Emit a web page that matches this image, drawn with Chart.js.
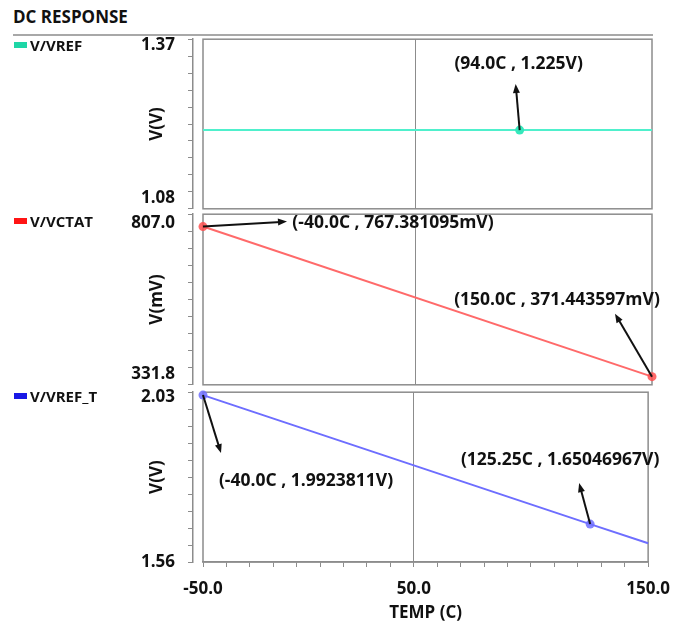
<!DOCTYPE html>
<html>
<head>
<meta charset="utf-8">
<script src="https://cdn.jsdelivr.net/npm/chart.js@4.4.0/dist/chart.umd.min.js"></script>
<style>
  body { margin: 0; background: #fff; font-family: "Open Sans", sans-serif; color: #111; }
  #page { position: relative; width: 682px; height: 623px; overflow: hidden; }
  #title { position: absolute; left: 13px; top: 5px; font-weight: bold; font-size: 17px; }
  #rule { position: absolute; left: 13px; top: 34px; width: 640px; height: 2px; background: #a8a8a8; }
  .panel { position: absolute; left: 0; }
  .leg { position: absolute; font-weight: bold; font-size: 15px; line-height: 16px; }
  .leg span { display: inline-block; width: 13px; height: 6px; margin-right: 3px; vertical-align: 3px; }
</style>
</head>
<body>
<div id="page">
  <div id="title">DC RESPONSE</div>
  <div id="rule"></div>
  <canvas id="c0" class="panel" width="682" height="216" style="top:16px"></canvas>
  <canvas id="c1" class="panel" width="682" height="217" style="top:191px"></canvas>
  <canvas id="c2" class="panel" width="682" height="254" style="top:369px"></canvas>
</div>
<script>
// Series
const seriesNames = ['V/VREF', 'V/VCTAT', 'V/VREF_T'];

const vrefTemp = [-40, 94, 150];
const vrefVolts = [1.225, 1.225, 1.225];

const vctatTemp = [-40, 150];
const vctatMilliVolts = [767.381095, 371.443597];

const vreftTemp = [-40, 125.25, 150];
const vreftVolts = [1.9923811, 1.65046967, 1.5995];

// Axes
const xRange = [-40, 150];
const xTickValues = [-40, 50, 150];
const xTickLabels = ['-50.0', '50.0', '150.0'];
const vrefRange = [1.08, 1.37];
const vctatRange = [331.8, 807.0];
const vreftRange = [1.56, 2.03];
const yTitles = ['V(V)', 'V(mV)', 'V(V)'];

// Marked points and their readouts
const vrefMarks = [1];
const vrefNotes = ['(94.0C , 1.225V)'];
const vctatMarks = [0, 1];
const vctatNotes = ['(-40.0C , 767.381095mV)', '(150.0C , 371.443597mV)'];
const vreftMarks = [0, 1];
const vreftNotes = ['(-40.0C , 1.9923811V)', '(125.25C , 1.65046967V)'];

const FONT = '"Open Sans", sans-serif';
const GRAY = '#8c8c8c';

const framePlugin = {
  id: 'frame',
  beforeDatasetsDraw(chart) {
    const { ctx, chartArea: a } = chart;
    ctx.save();
    ctx.strokeStyle = GRAY;
    ctx.lineWidth = 1.5;
    ctx.strokeRect(a.left, a.top, a.right - a.left, a.bottom - a.top);
    ctx.restore();
  }
};

const notePlugin = {
  id: 'notes',
  afterDatasetsDraw(chart, args, opts) {
    const ctx = chart.ctx;
    const pts = chart.getDatasetMeta(0).data;
    opts.marks.forEach((idx, k) => {
      const pt = pts[idx];
      const o = opts.offsets[k];
      const x1 = pt.x + o.ax, y1 = pt.y + o.ay;
      const ang = Math.atan2(y1 - pt.y, x1 - pt.x);
      ctx.save();
      ctx.strokeStyle = '#111';
      ctx.fillStyle = '#111';
      ctx.lineWidth = 2;
      ctx.beginPath();
      ctx.moveTo(pt.x, pt.y);
      ctx.lineTo(x1 - 6 * Math.cos(ang), y1 - 6 * Math.sin(ang));
      ctx.stroke();
      ctx.beginPath();
      ctx.moveTo(x1, y1);
      ctx.lineTo(x1 - 9 * Math.cos(ang) + 3.5 * Math.sin(ang), y1 - 9 * Math.sin(ang) - 3.5 * Math.cos(ang));
      ctx.lineTo(x1 - 9 * Math.cos(ang) - 3.5 * Math.sin(ang), y1 - 9 * Math.sin(ang) + 3.5 * Math.cos(ang));
      ctx.closePath();
      ctx.fill();
      ctx.font = 'bold 17.5px ' + FONT;
      ctx.textAlign = 'center';
      ctx.textBaseline = 'middle';
      ctx.fillText(opts.texts[k], pt.x + o.tx, pt.y + o.ty);
      ctx.restore();
    });
  }
};

function makePanel(id, p) {
  const font = { family: FONT, size: 17, weight: 'bold' };
  const titleFont = { family: FONT, size: 17, weight: 'bold' };
  const span = p.range[1] - p.range[0];
  new Chart(document.getElementById(id), {
    type: 'line',
    data: {
      datasets: [{
        label: p.name,
        data: p.temps.map((t, i) => ({ x: t, y: p.values[i] })),
        borderColor: p.color,
        borderWidth: 2,
        pointRadius: c => p.marks.includes(c.dataIndex) ? 4.5 : 0,
        pointBackgroundColor: p.markColor,
        pointBorderWidth: 0,
        tension: 0,
        clip: 8
      }]
    },
    options: {
      responsive: false,
      animation: false,
      layout: { padding: { left: 123, right: 30, top: 10, bottom: 0 } },
      plugins: {
        legend: { display: false },
        tooltip: { enabled: false },
        notes: { marks: p.marks, texts: p.notes, offsets: p.offsets }
      },
      scales: {
        x: {
          type: 'linear',
          min: xRange[0],
          max: xRange[1],
          afterBuildTicks: s => {
            s.ticks = [];
            for (let v = xRange[0]; v <= xRange[1]; v += 10) s.ticks.push({ value: v });
          },
          afterFit: s => { if (p.bottom) s.height = 61; },
          grid: {
            color: c => c.tick && c.tick.value === xTickValues[1] ? GRAY : 'rgba(0,0,0,0)',
            tickColor: GRAY,
            tickLength: 5,
            drawTicks: p.bottom
          },
          border: { display: p.bottom, color: GRAY, width: 1.5 },
          ticks: {
            display: p.bottom,
            autoSkip: false,
            maxRotation: 0,
            padding: 12,
            color: '#111',
            font: font,
            callback: v => {
              const i = xTickValues.indexOf(v);
              return i < 0 ? '' : xTickLabels[i];
            }
          },
          title: { display: p.bottom, text: 'TEMP (C)', color: '#111', font: titleFont, padding: { top: 2, bottom: 0 } }
        },
        ys: {
          position: 'left',
          weight: 0,
          grid: { display: false },
          border: { display: false },
          ticks: { display: false },
          afterFit: s => { s.width = 10; }
        },
        y: {
          position: 'left',
          weight: 1,
          min: p.range[0],
          max: p.range[1],
          afterBuildTicks: s => {
            // minor ticks, plus two label-only ticks set just inside the ends
            const t = [];
            for (let i = 0; i <= 10; i++) t.push({ value: p.range[0] + span * i / 10 });
            t.push({ value: p.range[0] + span * p.inset[0], edge: 0 });
            t.push({ value: p.range[1] - span * p.inset[1], edge: 1 });
            t.sort((a, b) => a.value - b.value);
            s.ticks = t;
          },
          afterFit: s => { s.width = 70; },
          grid: {
            drawOnChartArea: false,
            tickLength: 5,
            color: GRAY,
            tickColor: c => c.tick && c.tick.edge !== undefined ? 'rgba(0,0,0,0)' : GRAY
          },
          border: { color: GRAY, width: 1.5 },
          ticks: {
            autoSkip: false,
            padding: 13,
            color: '#111',
            font: font,
            callback: (v, i, t) => t[i].edge !== undefined ? p.range[t[i].edge].toFixed(p.digits) : ''
          },
          title: { display: true, text: p.yTitle, color: '#111', font: titleFont, padding: { top: 24, bottom: 0 } }
        }
      }
    },
    plugins: [framePlugin, notePlugin]
  });
}

const panels = [
  { id: 'c0', name: seriesNames[0], temps: vrefTemp, values: vrefVolts, range: vrefRange, digits: 2, inset: [0.06, 0.033],
    yTitle: yTitles[0], color: '#4ff0cc', markColor: '#36e8bc', swatch: '#1ed6a6', legTop: 37, legLeft: 14,
    marks: vrefMarks, notes: vrefNotes, offsets: [{ ax: -4, ay: -46, tx: -1, ty: -66 }], bottom: false },
  { id: 'c1', name: seriesNames[1], temps: vctatTemp, values: vctatMilliVolts, range: vctatRange, digits: 1, inset: [0.063, 0.05],
    yTitle: yTitles[1], color: '#ff6a6a', markColor: 'rgba(255,80,80,0.85)', swatch: '#ff1414', legTop: 213, legLeft: 14,
    marks: vctatMarks, notes: vctatNotes, offsets: [{ ax: 84, ay: -5, tx: 190, ty: -4 }, { ax: -37, ay: -63, tx: -95, ty: -77 }], bottom: false },
  { id: 'c2', name: seriesNames[2], temps: vreftTemp, values: vreftVolts, range: vreftRange, digits: 2, inset: [0.0, 0.03],
    yTitle: yTitles[2], color: '#6e6eff', markColor: 'rgba(110,110,255,0.85)', swatch: '#1818e6', legTop: 388, legLeft: 14,
    marks: vreftMarks, notes: vreftNotes, offsets: [{ ax: 18, ay: 58, tx: 103, ty: 86 }, { ax: -11, ay: -41, tx: -30, ty: -64 }], bottom: true }
];

// Legend on the left
const page = document.getElementById('page');
panels.forEach(p => {
  const d = document.createElement('div');
  d.className = 'leg';
  d.style.left = p.legLeft + 'px';
  d.style.top = p.legTop + 'px';
  d.innerHTML = '<span style="background:' + p.swatch + '"></span>' + p.name;
  page.appendChild(d);
  makePanel(p.id, p);
});
</script>
</body>
</html>
